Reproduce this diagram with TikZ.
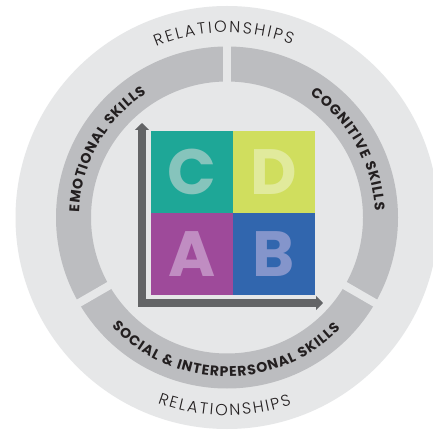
\documentclass[tikz,border=0pt]{standalone}
\usepackage{fontspec}
\newfontfamily\pop{Poppins}
\newfontfamily\poplight{Poppins Light}
\usetikzlibrary{decorations.text,arrows.meta}
\definecolor{discc}{HTML}{E6E7E8}
\definecolor{ringc}{HTML}{BCBDC0}
\definecolor{textc}{HTML}{231F20}
\definecolor{axisc}{HTML}{636466}
\definecolor{tealc}{HTML}{1EA797}
\definecolor{tealt}{HTML}{86C4BC}
\definecolor{yelc}{HTML}{D0DE5E}
\definecolor{yelt}{HTML}{E1EA9C}
\definecolor{purc}{HTML}{9E4A9A}
\definecolor{purt}{HTML}{C08DC2}
\definecolor{bluc}{HTML}{3166AE}
\definecolor{blut}{HTML}{8495CB}
\tikzset{
  cell/.style={minimum width=82pt, minimum height=82pt, inner sep=0pt,
    font=\pop\bfseries\fontsize{64}{64}\selectfont},
  axis/.style={draw=axisc, line width=8pt, line join=miter,
    {Triangle[width=14pt,length=7pt]}-{Triangle[width=14pt,length=7pt]}},
  gapstrip/.style={fill=discc},
}
\begin{document}
\begin{tikzpicture}[x=1pt,y=1pt]
\useasboundingbox (0,0) rectangle (433,431);
\fill[white] (0,0) rectangle (433,431);
\coordinate (c) at (227,213.5);
\fill[discc] (c) circle[radius=211.5];
\fill[ringc, even odd rule] (c) circle[radius=171] (c) circle[radius=136];
\foreach \a in {90,210,330}
  \fill[gapstrip, shift={(c)}, rotate=\a] (130,-4) rectangle (177,4);
% quadrant cells
\node[cell, fill=tealc, text=tealt] (C) at (192,259) {C};
\node[cell, fill=yelc, text=yelt] (D) at (274,259) {D};
\node[cell, fill=purc, text=purt] (A) at (192,177) {A};
\node[cell, fill=bluc, text=blut] (B) at (274,177) {B};
% axes
\coordinate (ytip) at (142,308);
\coordinate (corner) at (142,128);
\coordinate (xtip) at (323,128);
\draw[axis] (ytip) -- (corner) -- (xtip);
% relationships
\path[decorate, decoration={text along path, text align=fit to path,
  text={|\color{textc}\poplight\fontsize{16}{16}\selectfont|RELATIONSHIPS}}]
  ([shift={(c)}]112.5:185) arc[start angle=112.5, end angle=69.5, radius=185];
\path[decorate, decoration={text along path, text align=fit to path,
  text={|\color{textc}\poplight\fontsize{16}{16}\selectfont|RELATIONSHIPS}}]
  ([shift={(c)}]249.5:198) arc[start angle=249.5, end angle=289, radius=198];
% skills
\path[decorate, decoration={text along path, text align=fit to path,
  text={|\color{textc}\pop\bfseries\fontsize{14}{14}\selectfont|EMOTIONAL SKILLS}}]
  ([shift={(c)}]178:148) arc[start angle=178, end angle=123, radius=148];
\path[decorate, decoration={text along path, text align=fit to path,
  text={|\color{textc}\pop\bfseries\fontsize{14}{14}\selectfont|COGNITIVE SKILLS}}]
  ([shift={(c)}]56:148) arc[start angle=56, end angle=2.5, radius=148];
\path[decorate, decoration={text along path, text align=fit to path,
  text={|\color{textc}\pop\bfseries\fontsize{14}{14}\selectfont|SOCIAL {\&} INTERPERSONAL SKILLS}}]
  ([shift={(c)}]223.5:159) arc[start angle=223.5, end angle=315.5, radius=159];
\end{tikzpicture}
\end{document}
